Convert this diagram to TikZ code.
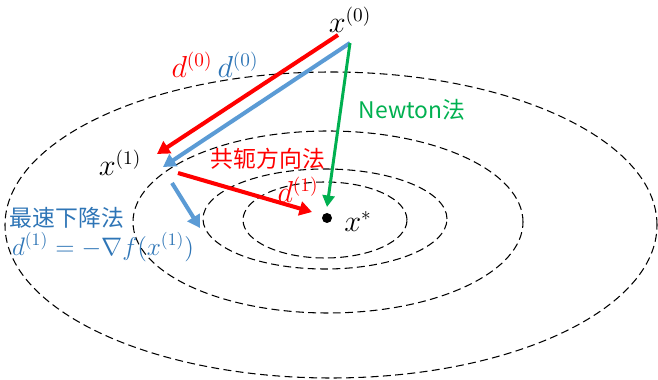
\documentclass[tikz,border=0pt]{standalone}
\usepackage{fontspec}
\usepackage{amsmath}
\newfontfamily\cjk{Noto Sans CJK SC}
\usetikzlibrary{arrows.meta}
\definecolor{cgred}{HTML}{FF0000}
\definecolor{sdblue}{HTML}{5B9BD5}
\definecolor{sdtext}{HTML}{2E75B6}
\definecolor{ntgreen}{HTML}{00B050}

\begin{document}
\begin{tikzpicture}[
  contour/.style={draw=black, line width=0.6pt, dash pattern=on 4.5pt off 2.5pt},
  steparrow/.style={line width=2.3pt, -{Triangle[length=2.5mm, width=2.8mm]}},
  mathlbl/.style={font=\fontsize{16}{18}\selectfont, inner sep=1pt},
  cnlbl/.style={font=\fontsize{13}{15}\selectfont\cjk, inner sep=1pt}]
  \useasboundingbox (0,0) rectangle (13.16,-7.6);
  % level sets
  \draw[contour] (6.62,-4.5) ellipse (6.52 and 3.06);
  \draw[contour] (6.56,-4.44) ellipse (3.9 and 1.82);
  \draw[contour] (6.5,-4.38) ellipse (2.44 and 1.0);
  \draw[contour] (6.5,-4.4) ellipse (1.64 and 0.76);
  % minimum
  \fill (6.54,-4.36) circle (0.1);
  \node[mathlbl] (xstar) at (7.16,-4.44) {$x^{*}$};
  \node[mathlbl] (x0) at (7.0,-0.4) {$x^{(0)}$};
  \node[mathlbl] (x1) at (2.4,-3.26) {$x^{(1)}$};
  % arrow ends
  \coordinate (r0s) at (6.76,-0.7);
  \coordinate (r0e) at (3.14,-3.08);
  \coordinate (b0s) at (7.0,-0.86);
  \coordinate (b0e) at (3.26,-3.34);
  \coordinate (ne) at (6.54,-4.14);
  \coordinate (r1s) at (3.56,-3.46);
  \coordinate (r1e) at (6.24,-4.24);
  \coordinate (b1s) at (3.44,-3.66);
  \coordinate (b1e) at (4.0,-4.56);
  \draw[steparrow, cgred] (r0s) -- (r0e);
  \draw[steparrow, sdblue] (b0s) -- (b0e);
  \draw[ntgreen, line width=1.7pt, -{Triangle[length=2.3mm, width=2.4mm]}] (b0s) -- (ne);
  \draw[steparrow, cgred] (r1s) -- (r1e);
  \draw[steparrow, sdblue] (b1s) -- (b1e);
  % labels
  \node[mathlbl, cgred] (d0r) at (3.84,-1.3) {$d^{(0)}$};
  \node[mathlbl, sdtext] (d0b) at (4.76,-1.3) {$d^{(0)}$};
  \node[mathlbl, cgred] (d1r) at (5.96,-3.8) {$d^{(1)}$};
  \node[cnlbl, ntgreen] (newton) at (8.24,-2.2) {Newton法};
  \node[cnlbl, cgred] (conj) at (5.36,-3.18) {共轭方向法};
  \node[cnlbl, sdtext] (sd) at (1.34,-4.36) {最速下降法};
  \node[mathlbl, sdtext, font=\fontsize{14}{16}\selectfont] (sdform) at (2.06,-4.94) {$d^{(1)}=-\nabla f(x^{(1)})$};
\end{tikzpicture}
\end{document}
